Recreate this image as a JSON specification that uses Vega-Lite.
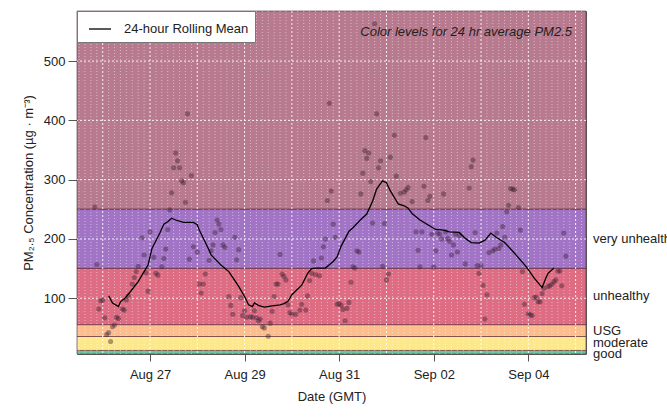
{
  "$schema": "https://vega.github.io/schema/vega-lite/v6.json",
  "width": 509,
  "height": 343,
  "autosize": {"type": "none"},
  "padding": {"left": 77, "top": 11, "right": 81, "bottom": 64},
  "background": "white",
  "config": {
    "font": "Liberation Sans",
    "view": {"stroke": "#666", "strokeWidth": 1},
    "axis": {"labelFont": "Liberation Sans", "titleFont": "Liberation Sans", "labelColor": "#222", "titleColor": "#222", "titleFontWeight": "normal", "labelFontSize": 13, "titleFontSize": 13}
  },
  "title": {"text": "Color levels for 24 hr average PM2.5", "anchor": "end", "frame": "group", "offset": -28, "fontStyle": "italic", "fontWeight": "normal", "fontSize": 13, "color": "#222", "dx": -14},
  "datasets": {
    "bands": [
      {"level": "good", "lo": 0, "hi": 12, "mid": 6},
      {"level": "moderate", "lo": 12, "hi": 35.5, "mid": 23.75},
      {"level": "USG", "lo": 35.5, "hi": 55.5, "mid": 45.5},
      {"level": "unhealthy", "lo": 55.5, "hi": 150.5, "mid": 103},
      {"level": "very unhealthy", "lo": 150.5, "hi": 250.5, "mid": 200.5},
      {"level": "hazardous", "lo": 250.5, "hi": 584.5, "mid": null}
    ],
    "hgrid": [{"v": 100}, {"v": 200}, {"v": 300}, {"v": 400}, {"v": 500}],
    "days": [
      {"t":"2020-08-26T00:00:00Z"},{"t":"2020-08-27T00:00:00Z"},{"t":"2020-08-28T00:00:00Z"},{"t":"2020-08-29T00:00:00Z"},{"t":"2020-08-30T00:00:00Z"},{"t":"2020-08-31T00:00:00Z"},{"t":"2020-09-01T00:00:00Z"},{"t":"2020-09-02T00:00:00Z"},{"t":"2020-09-03T00:00:00Z"},{"t":"2020-09-04T00:00:00Z"},{"t":"2020-09-05T00:00:00Z"}
    ],
    "hours3": [
      {"t":"2020-08-25T12:00:00Z"},{"t":"2020-08-25T15:00:00Z"},{"t":"2020-08-25T18:00:00Z"},{"t":"2020-08-25T21:00:00Z"},
      {"t":"2020-08-26T03:00:00Z"},{"t":"2020-08-26T06:00:00Z"},{"t":"2020-08-26T09:00:00Z"},{"t":"2020-08-26T12:00:00Z"},{"t":"2020-08-26T15:00:00Z"},{"t":"2020-08-26T18:00:00Z"},{"t":"2020-08-26T21:00:00Z"},
      {"t":"2020-08-27T03:00:00Z"},{"t":"2020-08-27T06:00:00Z"},{"t":"2020-08-27T09:00:00Z"},{"t":"2020-08-27T12:00:00Z"},{"t":"2020-08-27T15:00:00Z"},{"t":"2020-08-27T18:00:00Z"},{"t":"2020-08-27T21:00:00Z"},
      {"t":"2020-08-28T03:00:00Z"},{"t":"2020-08-28T06:00:00Z"},{"t":"2020-08-28T09:00:00Z"},{"t":"2020-08-28T12:00:00Z"},{"t":"2020-08-28T15:00:00Z"},{"t":"2020-08-28T18:00:00Z"},{"t":"2020-08-28T21:00:00Z"},
      {"t":"2020-08-29T03:00:00Z"},{"t":"2020-08-29T06:00:00Z"},{"t":"2020-08-29T09:00:00Z"},{"t":"2020-08-29T12:00:00Z"},{"t":"2020-08-29T15:00:00Z"},{"t":"2020-08-29T18:00:00Z"},{"t":"2020-08-29T21:00:00Z"},
      {"t":"2020-08-30T03:00:00Z"},{"t":"2020-08-30T06:00:00Z"},{"t":"2020-08-30T09:00:00Z"},{"t":"2020-08-30T12:00:00Z"},{"t":"2020-08-30T15:00:00Z"},{"t":"2020-08-30T18:00:00Z"},{"t":"2020-08-30T21:00:00Z"},
      {"t":"2020-08-31T03:00:00Z"},{"t":"2020-08-31T06:00:00Z"},{"t":"2020-08-31T09:00:00Z"},{"t":"2020-08-31T12:00:00Z"},{"t":"2020-08-31T15:00:00Z"},{"t":"2020-08-31T18:00:00Z"},{"t":"2020-08-31T21:00:00Z"},
      {"t":"2020-09-01T03:00:00Z"},{"t":"2020-09-01T06:00:00Z"},{"t":"2020-09-01T09:00:00Z"},{"t":"2020-09-01T12:00:00Z"},{"t":"2020-09-01T15:00:00Z"},{"t":"2020-09-01T18:00:00Z"},{"t":"2020-09-01T21:00:00Z"},
      {"t":"2020-09-02T03:00:00Z"},{"t":"2020-09-02T06:00:00Z"},{"t":"2020-09-02T09:00:00Z"},{"t":"2020-09-02T12:00:00Z"},{"t":"2020-09-02T15:00:00Z"},{"t":"2020-09-02T18:00:00Z"},{"t":"2020-09-02T21:00:00Z"},
      {"t":"2020-09-03T03:00:00Z"},{"t":"2020-09-03T06:00:00Z"},{"t":"2020-09-03T09:00:00Z"},{"t":"2020-09-03T12:00:00Z"},{"t":"2020-09-03T15:00:00Z"},{"t":"2020-09-03T18:00:00Z"},{"t":"2020-09-03T21:00:00Z"},
      {"t":"2020-09-04T03:00:00Z"},{"t":"2020-09-04T06:00:00Z"},{"t":"2020-09-04T09:00:00Z"},{"t":"2020-09-04T12:00:00Z"},{"t":"2020-09-04T15:00:00Z"},{"t":"2020-09-04T18:00:00Z"},{"t":"2020-09-04T21:00:00Z"},
      {"t":"2020-09-05T03:00:00Z"}
    ],
    "pts": [
      {"t":"2020-08-25T20:00:00Z","v":254},{"t":"2020-08-25T21:00:00Z","v":157},{"t":"2020-08-25T22:00:00Z","v":82},{"t":"2020-08-25T23:00:00Z","v":96},
      {"t":"2020-08-26T00:00:00Z","v":97},{"t":"2020-08-26T01:00:00Z","v":67},{"t":"2020-08-26T02:00:00Z","v":39},{"t":"2020-08-26T03:00:00Z","v":42},{"t":"2020-08-26T04:00:00Z","v":27},{"t":"2020-08-26T05:00:00Z","v":52},{"t":"2020-08-26T06:00:00Z","v":55},{"t":"2020-08-26T07:00:00Z","v":68},{"t":"2020-08-26T08:00:00Z","v":66},{"t":"2020-08-26T10:00:00Z","v":82},{"t":"2020-08-26T11:00:00Z","v":80},{"t":"2020-08-26T12:00:00Z","v":97},{"t":"2020-08-26T13:00:00Z","v":104},{"t":"2020-08-26T15:00:00Z","v":124},{"t":"2020-08-26T16:00:00Z","v":135},{"t":"2020-08-26T17:00:00Z","v":145},{"t":"2020-08-26T18:00:00Z","v":154},{"t":"2020-08-26T20:00:00Z","v":202},{"t":"2020-08-26T21:00:00Z","v":173},{"t":"2020-08-26T22:00:00Z","v":143},{"t":"2020-08-26T23:00:00Z","v":112},
      {"t":"2020-08-27T00:00:00Z","v":212},{"t":"2020-08-27T02:00:00Z","v":169},{"t":"2020-08-27T03:00:00Z","v":142},{"t":"2020-08-27T04:00:00Z","v":139},{"t":"2020-08-27T06:00:00Z","v":153},{"t":"2020-08-27T07:00:00Z","v":167},{"t":"2020-08-27T08:00:00Z","v":183},{"t":"2020-08-27T09:00:00Z","v":216},{"t":"2020-08-27T10:00:00Z","v":249},{"t":"2020-08-27T11:00:00Z","v":278},{"t":"2020-08-27T12:00:00Z","v":320},{"t":"2020-08-27T13:00:00Z","v":345},{"t":"2020-08-27T14:00:00Z","v":332},{"t":"2020-08-27T15:00:00Z","v":320},{"t":"2020-08-27T16:00:00Z","v":298},{"t":"2020-08-27T17:00:00Z","v":295},{"t":"2020-08-27T18:00:00Z","v":262},{"t":"2020-08-27T19:00:00Z","v":411},{"t":"2020-08-27T20:00:00Z","v":166},{"t":"2020-08-27T21:00:00Z","v":307},{"t":"2020-08-27T22:00:00Z","v":187},
      {"t":"2020-08-28T00:00:00Z","v":178},{"t":"2020-08-28T01:00:00Z","v":124},{"t":"2020-08-28T02:00:00Z","v":109},{"t":"2020-08-28T03:00:00Z","v":124},{"t":"2020-08-28T04:00:00Z","v":141},{"t":"2020-08-28T06:00:00Z","v":164},{"t":"2020-08-28T07:00:00Z","v":180},{"t":"2020-08-28T08:00:00Z","v":190},{"t":"2020-08-28T09:00:00Z","v":211},{"t":"2020-08-28T10:00:00Z","v":232},{"t":"2020-08-28T11:00:00Z","v":225},{"t":"2020-08-28T12:00:00Z","v":216},{"t":"2020-08-28T13:00:00Z","v":190},{"t":"2020-08-28T14:00:00Z","v":186},{"t":"2020-08-28T16:00:00Z","v":103},{"t":"2020-08-28T17:00:00Z","v":88},{"t":"2020-08-28T18:00:00Z","v":73},{"t":"2020-08-28T19:00:00Z","v":203},{"t":"2020-08-28T20:00:00Z","v":165},{"t":"2020-08-28T21:00:00Z","v":182},{"t":"2020-08-28T22:00:00Z","v":101},{"t":"2020-08-28T23:00:00Z","v":71},
      {"t":"2020-08-29T00:00:00Z","v":79},{"t":"2020-08-29T01:00:00Z","v":68},{"t":"2020-08-29T03:00:00Z","v":69},{"t":"2020-08-29T04:00:00Z","v":68},{"t":"2020-08-29T05:00:00Z","v":79},{"t":"2020-08-29T06:00:00Z","v":67},{"t":"2020-08-29T07:00:00Z","v":62},{"t":"2020-08-29T08:00:00Z","v":65},{"t":"2020-08-29T09:00:00Z","v":52},{"t":"2020-08-29T10:00:00Z","v":50},{"t":"2020-08-29T12:00:00Z","v":36},{"t":"2020-08-29T13:00:00Z","v":58},{"t":"2020-08-29T14:00:00Z","v":78},{"t":"2020-08-29T15:00:00Z","v":103},{"t":"2020-08-29T16:00:00Z","v":124},{"t":"2020-08-29T17:00:00Z","v":124},{"t":"2020-08-29T18:00:00Z","v":174},{"t":"2020-08-29T19:00:00Z","v":141},{"t":"2020-08-29T20:00:00Z","v":137},{"t":"2020-08-29T21:00:00Z","v":131},{"t":"2020-08-29T22:00:00Z","v":89},{"t":"2020-08-29T23:00:00Z","v":76},
      {"t":"2020-08-30T00:00:00Z","v":73},{"t":"2020-08-30T02:00:00Z","v":73},{"t":"2020-08-30T04:00:00Z","v":80},{"t":"2020-08-30T05:00:00Z","v":90},{"t":"2020-08-30T07:00:00Z","v":80},{"t":"2020-08-30T08:00:00Z","v":104},{"t":"2020-08-30T09:00:00Z","v":130},{"t":"2020-08-30T10:00:00Z","v":142},{"t":"2020-08-30T11:00:00Z","v":163},{"t":"2020-08-30T12:00:00Z","v":140},{"t":"2020-08-30T14:00:00Z","v":138},{"t":"2020-08-30T15:00:00Z","v":168},{"t":"2020-08-30T16:00:00Z","v":187},{"t":"2020-08-30T17:00:00Z","v":200},{"t":"2020-08-30T18:00:00Z","v":265},{"t":"2020-08-30T19:00:00Z","v":429},{"t":"2020-08-30T20:00:00Z","v":281},{"t":"2020-08-30T21:00:00Z","v":225},{"t":"2020-08-30T22:00:00Z","v":203},{"t":"2020-08-30T23:00:00Z","v":90},
      {"t":"2020-08-31T00:00:00Z","v":91},{"t":"2020-08-31T01:00:00Z","v":88},{"t":"2020-08-31T02:00:00Z","v":81},{"t":"2020-08-31T03:00:00Z","v":62},{"t":"2020-08-31T04:00:00Z","v":83},{"t":"2020-08-31T05:00:00Z","v":93},{"t":"2020-08-31T06:00:00Z","v":127},{"t":"2020-08-31T07:00:00Z","v":153},{"t":"2020-08-31T08:00:00Z","v":151},{"t":"2020-08-31T09:00:00Z","v":180},{"t":"2020-08-31T10:00:00Z","v":178},{"t":"2020-08-31T11:00:00Z","v":276},{"t":"2020-08-31T12:00:00Z","v":311},{"t":"2020-08-31T13:00:00Z","v":349},{"t":"2020-08-31T14:00:00Z","v":336},{"t":"2020-08-31T15:00:00Z","v":345},{"t":"2020-08-31T16:00:00Z","v":297},{"t":"2020-08-31T17:00:00Z","v":227},{"t":"2020-08-31T18:00:00Z","v":563},{"t":"2020-08-31T19:00:00Z","v":411},{"t":"2020-08-31T20:00:00Z","v":320},{"t":"2020-08-31T21:00:00Z","v":332},{"t":"2020-08-31T22:00:00Z","v":154},{"t":"2020-08-31T23:00:00Z","v":226},
      {"t":"2020-09-01T00:00:00Z","v":131},{"t":"2020-09-01T01:00:00Z","v":141},{"t":"2020-09-01T02:00:00Z","v":338},{"t":"2020-09-01T04:00:00Z","v":375},{"t":"2020-09-01T05:00:00Z","v":306},{"t":"2020-09-01T07:00:00Z","v":277},{"t":"2020-09-01T09:00:00Z","v":279},{"t":"2020-09-01T10:00:00Z","v":283},{"t":"2020-09-01T11:00:00Z","v":287},{"t":"2020-09-01T13:00:00Z","v":263},{"t":"2020-09-01T15:00:00Z","v":212},{"t":"2020-09-01T16:00:00Z","v":181},{"t":"2020-09-01T17:00:00Z","v":153},{"t":"2020-09-01T18:00:00Z","v":212},{"t":"2020-09-01T19:00:00Z","v":289},{"t":"2020-09-01T20:00:00Z","v":371},{"t":"2020-09-01T21:00:00Z","v":265},{"t":"2020-09-01T22:00:00Z","v":272},{"t":"2020-09-01T23:00:00Z","v":208},
      {"t":"2020-09-02T00:00:00Z","v":153},{"t":"2020-09-02T01:00:00Z","v":180},{"t":"2020-09-02T02:00:00Z","v":210},{"t":"2020-09-02T03:00:00Z","v":208},{"t":"2020-09-02T04:00:00Z","v":200},{"t":"2020-09-02T05:00:00Z","v":276},{"t":"2020-09-02T06:00:00Z","v":212},{"t":"2020-09-02T07:00:00Z","v":201},{"t":"2020-09-02T08:00:00Z","v":196},{"t":"2020-09-02T09:00:00Z","v":173},{"t":"2020-09-02T10:00:00Z","v":190},{"t":"2020-09-02T11:00:00Z","v":208},{"t":"2020-09-02T12:00:00Z","v":178},{"t":"2020-09-02T13:00:00Z","v":206},{"t":"2020-09-02T16:00:00Z","v":158},{"t":"2020-09-02T18:00:00Z","v":286},{"t":"2020-09-02T19:00:00Z","v":322},{"t":"2020-09-02T20:00:00Z","v":333},{"t":"2020-09-02T21:00:00Z","v":211},{"t":"2020-09-02T22:00:00Z","v":155},{"t":"2020-09-02T23:00:00Z","v":142},
      {"t":"2020-09-03T00:00:00Z","v":155},{"t":"2020-09-03T01:00:00Z","v":122},{"t":"2020-09-03T02:00:00Z","v":65},{"t":"2020-09-03T03:00:00Z","v":106},{"t":"2020-09-03T04:00:00Z","v":177},{"t":"2020-09-03T06:00:00Z","v":180},{"t":"2020-09-03T07:00:00Z","v":183},{"t":"2020-09-03T08:00:00Z","v":210},{"t":"2020-09-03T09:00:00Z","v":184},{"t":"2020-09-03T10:00:00Z","v":190},{"t":"2020-09-03T11:00:00Z","v":221},{"t":"2020-09-03T12:00:00Z","v":203},{"t":"2020-09-03T13:00:00Z","v":246},{"t":"2020-09-03T14:00:00Z","v":257},{"t":"2020-09-03T15:00:00Z","v":285},{"t":"2020-09-03T16:00:00Z","v":284},{"t":"2020-09-03T17:00:00Z","v":283},{"t":"2020-09-03T19:00:00Z","v":253},{"t":"2020-09-03T20:00:00Z","v":215},{"t":"2020-09-03T21:00:00Z","v":145},{"t":"2020-09-03T22:00:00Z","v":90},
      {"t":"2020-09-04T00:00:00Z","v":74},{"t":"2020-09-04T01:00:00Z","v":72},{"t":"2020-09-04T02:00:00Z","v":71},{"t":"2020-09-04T03:00:00Z","v":101},{"t":"2020-09-04T04:00:00Z","v":102},{"t":"2020-09-04T05:00:00Z","v":94},{"t":"2020-09-04T06:00:00Z","v":94},{"t":"2020-09-04T07:00:00Z","v":108},{"t":"2020-09-04T08:00:00Z","v":117},{"t":"2020-09-04T10:00:00Z","v":120},{"t":"2020-09-04T11:00:00Z","v":121},{"t":"2020-09-04T12:00:00Z","v":124},{"t":"2020-09-04T13:00:00Z","v":128},{"t":"2020-09-04T14:00:00Z","v":131},{"t":"2020-09-04T15:00:00Z","v":146},{"t":"2020-09-04T16:00:00Z","v":146},{"t":"2020-09-04T17:00:00Z","v":121},{"t":"2020-09-04T18:00:00Z","v":210},{"t":"2020-09-04T19:00:00Z","v":171}
    ],
    "roll": [
      {"t":"2020-08-26T03:00:00Z","v":104},{"t":"2020-08-26T05:00:00Z","v":92},{"t":"2020-08-26T08:00:00Z","v":86},{"t":"2020-08-26T09:00:00Z","v":94},{"t":"2020-08-26T11:00:00Z","v":99},{"t":"2020-08-26T14:00:00Z","v":111},{"t":"2020-08-26T18:00:00Z","v":128},{"t":"2020-08-26T21:00:00Z","v":145},{"t":"2020-08-26T23:00:00Z","v":156},
      {"t":"2020-08-27T01:00:00Z","v":184},{"t":"2020-08-27T05:00:00Z","v":210},{"t":"2020-08-27T07:00:00Z","v":225},{"t":"2020-08-27T09:00:00Z","v":229},{"t":"2020-08-27T11:00:00Z","v":235},{"t":"2020-08-27T13:00:00Z","v":232},{"t":"2020-08-27T17:00:00Z","v":228},{"t":"2020-08-27T22:00:00Z","v":228},
      {"t":"2020-08-28T00:00:00Z","v":224},{"t":"2020-08-28T01:00:00Z","v":215},{"t":"2020-08-28T04:00:00Z","v":195},{"t":"2020-08-28T06:00:00Z","v":181},{"t":"2020-08-28T07:00:00Z","v":173},{"t":"2020-08-28T12:00:00Z","v":156},{"t":"2020-08-28T16:00:00Z","v":145},{"t":"2020-08-28T20:00:00Z","v":125},{"t":"2020-08-28T21:00:00Z","v":120},
      {"t":"2020-08-29T00:00:00Z","v":103},{"t":"2020-08-29T02:00:00Z","v":89},{"t":"2020-08-29T04:00:00Z","v":86},{"t":"2020-08-29T05:00:00Z","v":92},{"t":"2020-08-29T07:00:00Z","v":88},{"t":"2020-08-29T10:00:00Z","v":85},{"t":"2020-08-29T14:00:00Z","v":87},{"t":"2020-08-29T18:00:00Z","v":89},{"t":"2020-08-29T20:00:00Z","v":91},{"t":"2020-08-29T22:00:00Z","v":95},
      {"t":"2020-08-30T00:00:00Z","v":106},{"t":"2020-08-30T05:00:00Z","v":122},{"t":"2020-08-30T08:00:00Z","v":142},{"t":"2020-08-30T10:00:00Z","v":150},{"t":"2020-08-30T12:00:00Z","v":151},{"t":"2020-08-30T17:00:00Z","v":151},{"t":"2020-08-30T21:00:00Z","v":162},{"t":"2020-08-30T23:00:00Z","v":170},
      {"t":"2020-08-31T01:00:00Z","v":188},{"t":"2020-08-31T05:00:00Z","v":213},{"t":"2020-08-31T07:00:00Z","v":219},{"t":"2020-08-31T11:00:00Z","v":233},{"t":"2020-08-31T14:00:00Z","v":242},{"t":"2020-08-31T17:00:00Z","v":264},{"t":"2020-08-31T19:00:00Z","v":284},{"t":"2020-08-31T22:00:00Z","v":298},
      {"t":"2020-09-01T00:00:00Z","v":295},{"t":"2020-09-01T02:00:00Z","v":281},{"t":"2020-09-01T04:00:00Z","v":270},{"t":"2020-09-01T06:00:00Z","v":259},{"t":"2020-09-01T09:00:00Z","v":256},{"t":"2020-09-01T11:00:00Z","v":252},{"t":"2020-09-01T13:00:00Z","v":243},{"t":"2020-09-01T17:00:00Z","v":232},{"t":"2020-09-01T21:00:00Z","v":224},
      {"t":"2020-09-02T01:00:00Z","v":216},{"t":"2020-09-02T05:00:00Z","v":215},{"t":"2020-09-02T08:00:00Z","v":212},{"t":"2020-09-02T13:00:00Z","v":211},{"t":"2020-09-02T16:00:00Z","v":201},{"t":"2020-09-02T19:00:00Z","v":194},{"t":"2020-09-02T23:00:00Z","v":193},
      {"t":"2020-09-03T02:00:00Z","v":198},{"t":"2020-09-03T05:00:00Z","v":210},{"t":"2020-09-03T08:00:00Z","v":202},{"t":"2020-09-03T12:00:00Z","v":194},{"t":"2020-09-03T17:00:00Z","v":176},{"t":"2020-09-03T23:00:00Z","v":153},
      {"t":"2020-09-04T03:00:00Z","v":134},{"t":"2020-09-04T07:00:00Z","v":118},{"t":"2020-09-04T09:00:00Z","v":135},{"t":"2020-09-04T10:00:00Z","v":142},{"t":"2020-09-04T13:00:00Z","v":151}
    ]
  },
  "layer": [
    {
      "data": {"name": "bands"},
      "mark": {"type": "rect", "stroke": "#4a1a2a", "strokeWidth": 0.8, "strokeOpacity": 0.7},
      "encoding": {
        "x": {"value": 0},
        "x2": {"value": "width"},
        "y": {"field": "lo", "type": "quantitative", "scale": {"domain": [6, 584.5], "nice": false, "zero": false, "clamp": true},
          "axis": {"orient": "left", "values": [100, 200, 300, 400, 500], "title": "PM₂.₅ Concentration (µg · m⁻³)", "grid": false, "domain": false, "tickSize": 9, "tickWidth": 1, "tickColor": "#555", "labelPadding": 3, "titlePadding": 8}},
        "y2": {"field": "hi"},
        "fill": {"field": "level", "type": "nominal", "legend": null,
          "scale": {"domain": ["good", "moderate", "USG", "unhealthy", "very unhealthy", "hazardous"], "range": ["#64c8a0", "#fde88c", "#fcbe8c", "#de6c82", "#a274c6", "#b87a8e"]}}
      }
    },
    {
      "data": {"name": "hours3"},
      "mark": {"type": "rule", "color": "white", "strokeWidth": 0.8, "strokeDash": [1, 2], "opacity": 0.6},
      "encoding": {"x": {"field": "t", "type": "temporal"}}
    },
    {
      "data": {"name": "days"},
      "mark": {"type": "rule", "color": "white", "strokeWidth": 1, "strokeDash": [2, 2], "opacity": 0.9},
      "encoding": {"x": {"field": "t", "type": "temporal"}}
    },
    {
      "data": {"name": "hgrid"},
      "mark": {"type": "rule", "color": "white", "strokeWidth": 1, "strokeDash": [2, 2], "opacity": 0.9},
      "encoding": {"y": {"field": "v", "type": "quantitative"}}
    },
    {
      "data": {"name": "bands"},
      "transform": [{"filter": "datum.mid != null"}],
      "mark": {"type": "text", "align": "left", "baseline": "middle", "dx": 7, "fontSize": 13, "color": "#222"},
      "encoding": {
        "x": {"value": "width"},
        "y": {"field": "mid", "type": "quantitative"},
        "text": {"field": "level"}
      }
    },
    {
      "data": {"name": "pts"},
      "mark": {"type": "circle", "size": 26, "color": "#3a1f32", "opacity": 0.42},
      "encoding": {
        "x": {"field": "t", "type": "temporal",
          "scale": {"type": "utc", "nice": false, "domain": [1598353020000, 1599282960000]},
          "axis": {"orient": "bottom", "title": "Date (GMT)", "values": [1598486400000, 1598659200000, 1598832000000, 1599004800000, 1599177600000], "format": "%b %d", "grid": false, "domain": false, "tickSize": 7, "tickWidth": 1, "tickColor": "#555", "labelPadding": 7, "titlePadding": 9, "labelFlush": false}},
        "y": {"field": "v", "type": "quantitative"}
      }
    },
    {
      "data": {"name": "roll"},
      "mark": {"type": "line", "strokeWidth": 1.3},
      "encoding": {
        "x": {"field": "t", "type": "temporal"},
        "y": {"field": "v", "type": "quantitative"},
        "stroke": {"datum": "24-hour Rolling Mean", "type": "nominal", "scale": {"range": ["black"]},
          "legend": {"title": null, "orient": "top-left", "offset": 0, "fillColor": "white", "strokeColor": "#777", "padding": 6, "symbolOffset": 5, "symbolType": "stroke", "symbolSize": 484, "symbolStrokeWidth": 1.3, "labelFontSize": 13, "labelColor": "#222", "labelOffset": 12}}
      }
    }
  ]
}
